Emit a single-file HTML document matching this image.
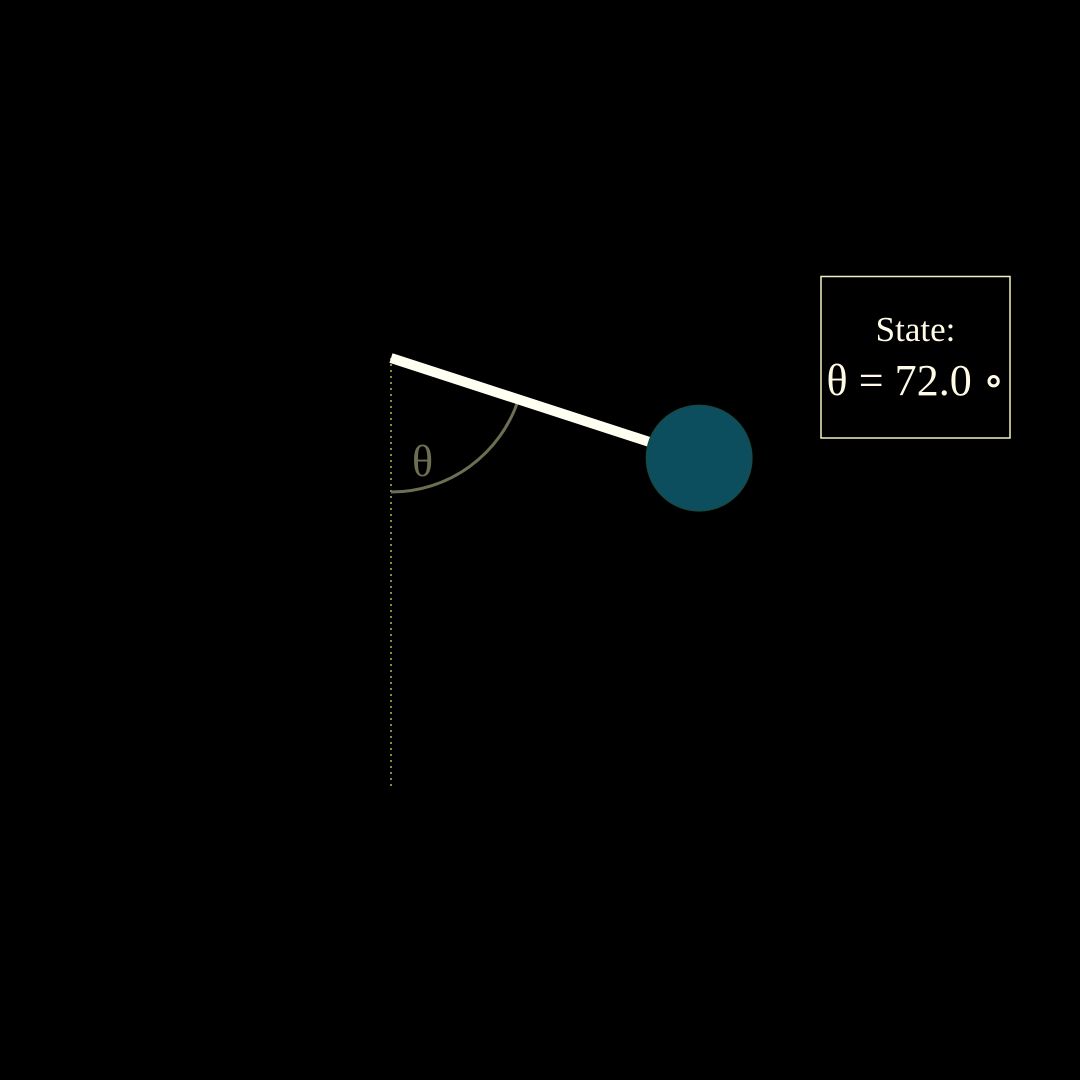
<!DOCTYPE html>
<html><head><meta charset="utf-8"><style>
html,body{margin:0;padding:0;background:#000;width:1080px;height:1080px;overflow:hidden}
svg{display:block}
</style></head><body>
<svg id="chart" width="1080" height="1080" viewBox="0 0 1080 1080" xmlns="http://www.w3.org/2000/svg">
<rect width="1080" height="1080" fill="#000"/>
<g id="scene"></g>
<rect x="821" y="276.5" width="189" height="161.5" fill="none" stroke="#f4f0c0" stroke-width="1.5"/>
<text x="915.5" y="341" text-anchor="middle" font-family="'Liberation Serif', serif" font-size="35" fill="#fffbe6">State:</text>
<text id="stateVal" x="915.5" y="395" text-anchor="middle" textLength="178" font-family="'Liberation Serif', 'DejaVu Serif', serif" font-size="44" fill="#fffbe6"></text>
</svg>
<script>
const angleDeg = [72.0];
const rodLength = [324];
const bobRadius = [53];
const NS = "http://www.w3.org/2000/svg";
const pivot = {x: 391, y: 358};
const scene = document.getElementById('scene');
function mk(tag, attrs){const e=document.createElementNS(NS,tag);for(const k in attrs)e.setAttribute(k,attrs[k]);scene.appendChild(e);return e;}
const th = angleDeg[0]*Math.PI/180;
const L = rodLength[0], R = bobRadius[0];
const bx = pivot.x + L*Math.sin(th), by = pivot.y + L*Math.cos(th);
const ref = mk('line',{x1:pivot.x,y1:pivot.y,x2:pivot.x,y2:790,stroke:'#8a8a40','stroke-width':2,'stroke-dasharray':'2 4'});


const ar = 134;
const ax = pivot.x + ar*Math.sin(th), ay = pivot.y + ar*Math.cos(th);
const arc = mk('path',{d:`M ${pivot.x} ${pivot.y+ar} A ${ar} ${ar} 0 0 0 ${ax} ${ay}`,fill:'none',stroke:'#6e6e52','stroke-width':3});


const lbl = mk('text',{x:pivot.x+21,y:pivot.y+118,'font-family':"'Liberation Serif', serif",'font-size':44,fill:'#6e6e52'});
lbl.textContent = 'θ';


const rex = pivot.x + (L-R+4)*Math.sin(th), rey = pivot.y + (L-R+4)*Math.cos(th);
const rod = mk('line',{x1:pivot.x,y1:pivot.y,x2:rex,y2:rey,stroke:'#fffff2','stroke-width':10});


const bob = mk('circle',{cx:bx,cy:by,r:R,fill:'#0d4e5e',stroke:'#1a4a3a','stroke-width':1});


document.getElementById('stateVal').textContent = 'θ = ' + angleDeg[0].toFixed(1) + ' ∘';
</script>
</body></html>
